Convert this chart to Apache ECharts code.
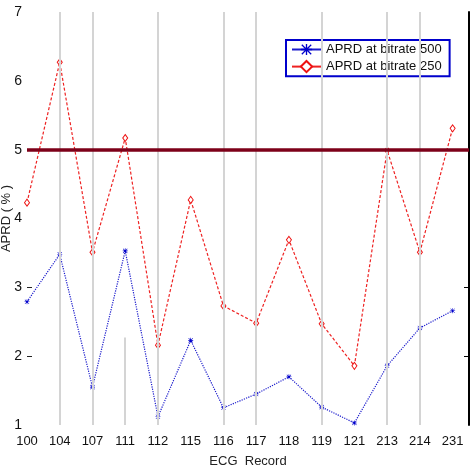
<!DOCTYPE html>
<html>
<head>
<meta charset="utf-8">
<script src="https://cdn.jsdelivr.net/npm/echarts@6/dist/echarts.min.js"></script>
<style>
html, body { margin: 0; background: #fff; }
#chart { width: 473px; height: 470px; }
</style>
</head>
<body>
<div id="chart"></div>
<script>
// ECG records on the x axis
const records = ['100', '104', '107', '111', '112', '115', '116', '117', '118', '119', '121', '213', '214', '231'];
// APRD (%) values
const aprd500 = [2.79, 3.48, 1.55, 3.53, 1.12, 2.23, 1.25, 1.45, 1.70, 1.26, 1.03, 1.86, 2.41, 2.66];
const aprd250 = [4.23, 6.27, 3.51, 5.17, 2.16, 4.27, 2.73, 2.48, 3.69, 2.47, 1.86, 4.99, 3.51, 5.31];
// records that have a gray vertical guide line
const guideRecords = ['104', '107', '112', '116', '117', '119', '213', '214'];
const threshold = 5;
const yTicks = [2, 3];

const asterisk = 'path://M4.4,0L5.6,0L5.6,10L4.4,10Z M0,4.4L10,4.4L10,5.6L0,5.6Z M1.2,0.4L9.6,8.8L8.8,9.6L0.4,1.2Z M8.8,0.4L9.6,1.2L1.2,9.6L0.4,8.8Z';

const font = "'Liberation Sans', Arial, sans-serif";

let chart = echarts.init(document.getElementById('chart'));

let guideLines = guideRecords.map(r => ({ xAxis: records.indexOf(r) }));
// the short one at 111
guideLines.push([{ coord: [records.indexOf('111'), 1] }, { coord: [records.indexOf('111'), 2.27] }]);

let option = {
    animation: false,
    grid: { left: 27, right: 4, top: 12, bottom: 45, outerBoundsMode: 'none', containLabel: false },
    legend: {
        orient: 'vertical',
        left: 286,
        top: 40,
        backgroundColor: '#fff',
        borderColor: '#0000cc',
        borderWidth: 2,
        borderRadius: 0,
        padding: [3, 8, 3, 5],
        itemGap: 4,
        itemWidth: 29,
        itemHeight: 14,
        textStyle: { fontFamily: font, fontSize: 13, color: '#111' },
        lineStyle: { type: 'solid', width: 2 },
        data: ['APRD at bitrate 500', 'APRD at bitrate 250']
    },
    xAxis: {
        type: 'value',
        min: 0,
        max: 13.5,
        interval: 1,
        name: 'ECG  Record',
        nameLocation: 'middle',
        nameGap: 30,
        nameMoveOverlap: false,
        nameTextStyle: { fontFamily: font, fontSize: 13, color: '#222' },
        axisLine: { show: false },
        axisTick: { show: false },
        splitLine: { show: false },
        axisLabel: {
            fontFamily: font,
            fontSize: 13,
            color: '#111',
            margin: 10,
            formatter: v => (Number.isInteger(v) && records[v]) ? records[v] : ''
        }
    },
    yAxis: [
        {
            type: 'value',
            min: 1,
            max: 7,
            interval: 1,
            name: 'APRD ( % )',
            nameLocation: 'middle',
            nameGap: 14,
            nameMoveOverlap: false,
            nameTextStyle: { fontFamily: font, fontSize: 13, color: '#222' },
            axisLine: { show: false },
            axisTick: { show: true, inside: true, length: 5, customValues: yTicks, lineStyle: { color: '#222' } },
            splitLine: { show: false },
            axisLabel: { fontFamily: font, fontSize: 14, color: '#111', margin: 5 }
        },
        {
            type: 'value',
            position: 'right',
            min: 1,
            max: 7,
            interval: 1,
            axisLine: { show: true, lineStyle: { color: '#000', width: 2 } },
            axisTick: { show: true, inside: true, length: 5, customValues: yTicks, lineStyle: { color: '#000' } },
            axisLabel: { show: false },
            splitLine: { show: false }
        }
    ],
    series: [
        {
            name: 'APRD at bitrate 500',
            type: 'line',
            data: aprd500.map((v, i) => [i, v]),
            symbol: asterisk,
            symbolSize: 5,
            z: 4,
            itemStyle: { color: '#0000cc' },
            lineStyle: { color: '#1a1acc', width: 1.2, type: 'dotted' }
        },
        {
            name: 'APRD at bitrate 250',
            type: 'line',
            data: aprd250.map((v, i) => [i, v]),
            symbol: 'diamond',
            symbolSize: [5, 7],
            z: 3,
            itemStyle: { color: '#fff', borderColor: '#ee1111', borderWidth: 1 },
            lineStyle: { color: '#ee2222', width: 1.2, type: [3, 2] },
            markLine: {
                silent: true,
                symbol: 'none',
                label: { show: false },
                lineStyle: { color: '#d4d4d4', width: 2, type: 'solid' },
                data: guideLines
            }
        },
        {
            name: 'threshold',
            type: 'line',
            data: [],
            markLine: {
                silent: true,
                symbol: 'none',
                label: { show: false },
                lineStyle: { color: '#7d0019', width: 3.5, type: 'solid' },
                data: [{ yAxis: threshold }]
            }
        }
    ]
};

chart.setOption(option);
</script>
</body>
</html>
